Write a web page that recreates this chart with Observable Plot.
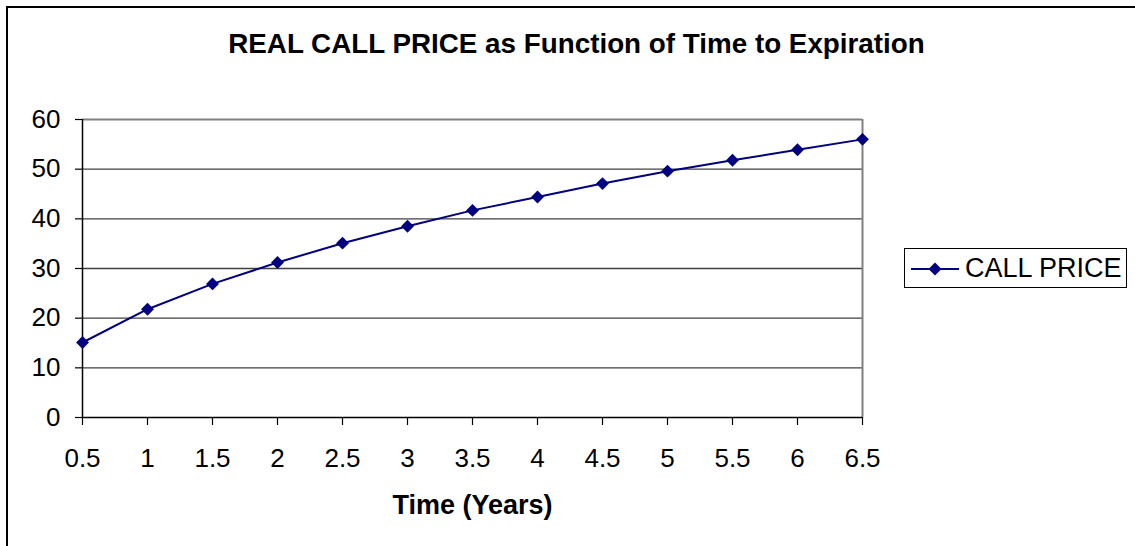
<!DOCTYPE html>
<html>
<head>
<meta charset="utf-8">
<script src="https://cdn.jsdelivr.net/npm/d3@7"></script>
<script src="https://cdn.jsdelivr.net/npm/@observablehq/plot@0.6"></script>
<style>
  html, body { margin: 0; padding: 0; background: #fff; overflow: hidden; width: 1135px; height: 546px; }
  #wrap { position: relative; width: 1135px; height: 546px; font-family: "Liberation Sans", Arial, sans-serif; }
  #border { position: absolute; left: 6px; top: 6px; width: 1300px; height: 700px; border: 2px solid #000; box-sizing: border-box; pointer-events: none; }
  #chart { position: absolute; left: 0; top: 0; }
  #legend { position: absolute; left: 904px; top: 248px; width: 223px; height: 40px; border: 1px solid #000; box-sizing: border-box; background: #fff; }
  #legend svg { position: absolute; left: 0; top: 0; }
  #legend span { position: absolute; left: 60px; top: 4px; font-size: 27px; line-height: 30px; color: #000; white-space: nowrap; }
</style>
</head>
<body>
<div id="wrap">
  <div id="chart"></div>
  <div id="border"></div>
  <div id="legend"></div>
</div>
<script>
// Data
const years = [0.5, 1, 1.5, 2, 2.5, 3, 3.5, 4, 4.5, 5, 5.5, 6, 6.5];
const callPrice = [15.1, 21.8, 26.9, 31.2, 35.1, 38.5, 41.7, 44.4, 47.1, 49.6, 51.8, 53.9, 56.0];
const yTicks = [0, 10, 20, 30, 40, 50, 60];
const xTicks = years;
const seriesName = "CALL PRICE";
const titleText = "REAL CALL PRICE as Function of Time to Expiration";
const xLabel = "Time (Years)";
const seriesColor = "#000080";

const data = years.map((t, i) => ({t, v: callPrice[i]}));

const chart = Plot.plot({
  width: 1135,
  height: 546,
  marginLeft: 82,
  marginRight: 273,
  marginTop: 119,
  marginBottom: 129,
  style: {fontFamily: '"Liberation Sans", Arial, sans-serif', fontSize: "26px", color: "#000", background: "transparent", overflow: "visible"},
  x: {domain: [0.5, 6.5], ticks: xTicks, tickFormat: d => String(d)},
  y: {domain: [0, 60], ticks: yTicks},
  marks: [
    Plot.gridY(yTicks.filter(d => d > 0 && d < 60), {stroke: "#404040", strokeOpacity: 1, strokeWidth: 1.3}),
    Plot.ruleY([60], {stroke: "#808080", strokeWidth: 2}),
    Plot.ruleX([6.5], {stroke: "#808080", strokeWidth: 2}),
    Plot.ruleX([0.5], {stroke: "#000", strokeWidth: 1.5}),
    Plot.ruleY([0], {stroke: "#000", strokeWidth: 1.5}),
    Plot.axisY(yTicks, {tickSize: 7, tickPadding: 15, stroke: "#000", strokeWidth: 1.2, fontSize: 26, label: null}),
    Plot.axisX(xTicks, {tickSize: 8, tickPadding: 23, stroke: "#000", strokeWidth: 1.2, fontSize: 26, label: null, tickFormat: d => String(d)}),
    Plot.line(data, {x: "t", y: "v", stroke: seriesColor, strokeWidth: 2}),
    Plot.dot(data, {x: "t", y: "v", symbol: "diamond2", r: 5.8, fill: seriesColor, stroke: "none"}),
    Plot.text([xLabel], {frameAnchor: "bottom", dy: 88, lineAnchor: "middle", fontWeight: "bold", fontSize: 27, fill: "#000"}),
    Plot.text([titleText], {frameAnchor: "top", dx: 104, dy: -75, lineAnchor: "middle", fontWeight: "bold", fontSize: 27.8, fill: "#000"})
  ]
});
document.getElementById("chart").appendChild(chart);

// Legend
const legend = document.getElementById("legend");
legend.innerHTML =
  '<svg width="60" height="40">' +
  '<line x1="6" y1="20" x2="54" y2="20" stroke="' + seriesColor + '" stroke-width="2"/>' +
  '<path d="M30,13.5 L36.5,20 L30,26.5 L23.5,20 Z" fill="' + seriesColor + '"/>' +
  '</svg><span></span>';
legend.querySelector("span").textContent = seriesName;
</script>
</body>
</html>
